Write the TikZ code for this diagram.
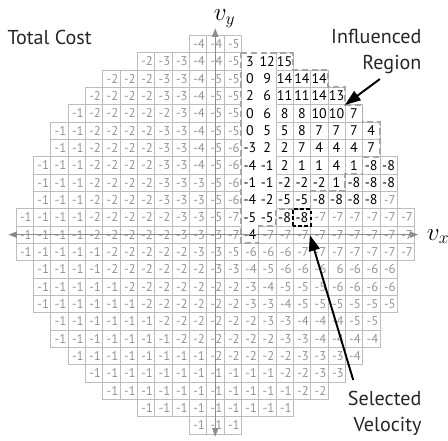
\documentclass[tikz,border=0pt]{standalone}
\usepackage{fontspec}
\setmainfont{PT Sans}
\usetikzlibrary{arrows.meta}
\definecolor{gridgray}{gray}{0.74}
\definecolor{numgray}{gray}{0.58}
\definecolor{axisgray}{gray}{0.55}
\tikzset{
  cell/.style={draw=gridgray, line width=0.6pt},
  cost/.style={font=\fontsize{10.5}{11}\selectfont, text=numgray, inner sep=0pt, anchor=east},
  hot/.style={font=\fontsize{11.5}{12}\selectfont, text=black, inner sep=0pt},
  region/.style={draw=gray!70, line width=1.5pt, dash pattern=on 5pt off 3pt},
  chosen/.style={draw=black, line width=1.6pt, dash pattern=on 3pt off 2pt},
  axis/.style={{Triangle[length=7pt,width=5pt]}-{Triangle[length=7pt,width=5pt]}, draw=axisgray, line width=1pt},
  callout/.style={-{Triangle[length=13pt,width=9pt]}, line width=1.6pt},
  notetext/.style={font=\fontsize{16.5}{21}\selectfont, inner sep=0pt, text=black!85}
}

\begin{document}
\begin{tikzpicture}[x=0.5cm, y=0.5cm]
    \useasboundingbox (-12.42,-11.85) rectangle (13.43,13.54);

    % row / half width / last dark column / costs
    \foreach \r/\w/\d/\vals in {
      11/1/1/{-4,-4,-5},
      10/4/4/{-2,-3,-3,-4,-4,-5,3,12,15},
      9/6/6/{-2,-2,-2,-3,-3,-4,-5,-5,0,9,14,14,14},
      8/7/7/{-2,-2,-2,-2,-3,-3,-4,-5,-5,2,6,11,11,14,13},
      7/8/8/{-1,-2,-2,-2,-2,-2,-3,-4,-5,-5,0,6,8,8,10,10,7},
      6/9/9/{-1,-1,-2,-2,-2,-2,-3,-3,-4,-5,-5,0,5,5,8,7,7,7,4},
      5/9/9/{-1,-1,-2,-2,-2,-2,-3,-3,-4,-5,-6,-3,2,2,7,4,4,4,7},
      4/10/10/{-1,-1,-1,-2,-2,-2,-2,-3,-3,-4,-5,-6,-4,-1,2,1,1,4,1,-8,-8},
      3/10/10/{-1,-1,-1,-2,-2,-2,-2,-3,-3,-3,-5,-6,-1,-1,-2,-2,-2,1,-8,-8,-8},
      2/10/9/{-1,-1,-1,-2,-2,-2,-2,-3,-3,-3,-5,-6,-4,-2,-5,-5,-8,-8,-8,-8,-7},
      1/11/5/{-1,-1,-1,-1,-2,-2,-2,-2,-2,-3,-3,-5,-7,-5,-5,-8,-8,-7,-7,-7,-7,-7,-7},
      0/11/2/{-1,-1,-1,-1,-2,-2,-2,-2,-2,-3,-3,-3,-7,-4,-7,-7,-7,-7,-7,-7,-7,-7,-7},
      -1/11/1/{-1,-1,-1,-1,-1,-2,-2,-2,-2,-2,-3,-3,-5,-6,-6,-6,-7,-7,-7,-7,-7,-7,-7},
      -2/10/1/{-1,-1,-1,-1,-2,-2,-2,-2,-2,-2,-3,-3,-4,-5,-6,-6,-6,6,-6,-6,-6},
      -3/10/1/{-1,-1,-1,-1,-1,-2,-2,-2,-2,-2,-2,-2,-3,-4,-5,-5,-5,-6,-6,-6,-6},
      -4/10/1/{-1,-1,-1,-1,-1,-1,-2,-2,-2,-2,-2,-2,-3,-3,-4,-5,-5,-5,-5,-5,-5},
      -5/9/1/{-1,-1,-1,-1,-1,-1,-2,-2,-2,-2,-2,-2,-3,-3,-4,-4,-4,-5,-5},
      -6/9/1/{-1,-1,-1,-1,-1,-1,-1,-2,-2,-2,-2,-2,-2,-3,-3,-4,-4,-4,-4},
      -7/8/1/{-1,-1,-1,-1,-1,-1,-1,-1,-2,-2,-2,-2,-2,-3,-3,-3,-4},
      -8/7/1/{-1,-1,-1,-1,-1,-1,-1,-1,-1,-1,-1,-2,-2,-3,-3},
      -9/6/1/{-1,-1,-1,-1,-1,-1,-1,-1,-1,-1,-1,-2,-2},
      -10/4/1/{-1,-1,-1,-1,-1,-1,-1,-1,-1},
      -11/1/1/{-1,-1,-1}}{
      \foreach \v [count=\i] in \vals {
        \pgfmathtruncatemacro\c{\i-\w-1}
        \pgfmathtruncatemacro\ishot{and(\c>=2,\c<=\d)}
        % no inner lines in the two left columns of the region
        \pgfmathtruncatemacro\bare{or(and(\c==2,\r>=0),and(\c==3,\r>=1))}
        \ifnum\bare=0
          \draw[cell] (\c-0.5,\r-0.5) rectangle ++(1,1);
        \fi
        \ifnum\ishot=1
          \node[hot] (cost-\r-\c) at (\c,\r) {\v};
        \else
          \node[cost] (cost-\r-\c) at (\c+0.42,\r) {\v};
        \fi
      }
    }

    % influenced region and selected velocity
    \draw[region] (1.5,10.5) -| (4.5,9.5) -| (6.5,8.5) -| (7.5,7.5) -| (8.5,6.5) -| (9.5,4.5)
      -| (8.5,3.5) -| (7.5,2.5) -| (5.5,1.5) -| (3.5,0.5) -| (2.5,-0.5) -| cycle;
    \draw[chosen] (4.5,0.5) rectangle (5.5,1.5);

    % axes
    \coordinate (xl) at (-11.94,0);
    \coordinate (xr) at (11.71,0);
    \coordinate (yb) at (0,-11.66);
    \coordinate (yt) at (0,11.91);
    \draw[axis] (xl) -- (xr);
    \draw[axis] (yb) -- (yt);
    \node[anchor=base west, inner sep=0pt, font=\fontsize{20}{24}\selectfont] (vx) at (12.2,-0.31) {$v_x$};
    \node[anchor=base west, inner sep=0pt, font=\fontsize{20}{24}\selectfont] (vy) at (-0.1,12.35) {$v_y$};

    % labels
    \node[notetext, anchor=base west] (total) at (-12.0,10.95) {Total Cost};
    \node[notetext, anchor=north east, align=right] (infl) at (11.91,11.85) {Influenced\\Region};
    \node[notetext, anchor=north east, align=right] (sel) at (11.91,-9.02) {Selected\\Velocity};
    \coordinate (inflTail) at (9.5,8.98);
    \coordinate (inflTip) at (7.48,7.48);
    \coordinate (selTail) at (7.96,-8.38);
    \coordinate (selTip) at (5.46,-0.02);
    \draw[callout] (inflTail) -- (inflTip);
    \draw[callout] (selTail) -- (selTip);
\end{tikzpicture}
\end{document}
